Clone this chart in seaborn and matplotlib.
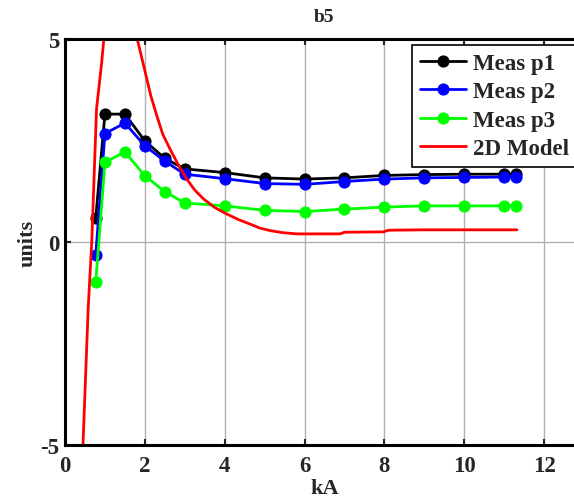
import matplotlib
matplotlib.use("Agg")
import matplotlib.pyplot as plt
import seaborn as sns
import pandas as pd

sns.set_style("white")
plt.rcParams['font.family'] = ['Liberation Serif', 'DejaVu Serif']
plt.rcParams['font.weight'] = 'bold'
plt.rcParams['axes.unicode_minus'] = False

meas_x = [0.77, 1.0, 1.5, 2.0, 2.5, 3.0, 4.0, 5.0, 6.0, 7.0, 8.0, 9.0, 10.0, 11.0, 11.3]
p1 = [0.59, 3.15, 3.15, 2.49, 2.06, 1.80, 1.71, 1.58, 1.55, 1.58, 1.64, 1.66, 1.67, 1.67, 1.67]
p2 = [-0.32, 2.67, 2.93, 2.37, 1.99, 1.67, 1.56, 1.44, 1.42, 1.49, 1.55, 1.58, 1.59, 1.60, 1.60]
p3 = [-0.99, 1.96, 2.22, 1.63, 1.24, 0.96, 0.89, 0.78, 0.75, 0.81, 0.86, 0.89, 0.89, 0.89, 0.89]

model_x = [0.40, 0.45, 0.52, 0.58, 0.67, 0.79, 0.92, 1.0, 1.2, 1.45, 1.7, 1.81, 2.01, 2.15,
           2.30, 2.45, 2.63, 2.85, 3.05, 3.25, 3.47, 3.75, 4.05, 4.35, 4.64, 4.89, 5.14,
           5.45, 5.81, 6.5, 6.89, 7.0, 7.98, 8.1, 8.98, 9.1, 11.32]
model_y = [-7.0, -5.0, -3.2, -1.65, 0.0, 3.28, 4.43, 5.3, 7.0, 7.5, 5.8, 5.0, 4.18, 3.6,
           3.11, 2.65, 2.29, 1.88, 1.55, 1.28, 1.06, 0.85, 0.69, 0.55, 0.44, 0.34, 0.28,
           0.23, 0.20, 0.20, 0.20, 0.24, 0.25, 0.29, 0.30, 0.30, 0.30]

fig = plt.figure(figsize=(5.74, 5.02), dpi=100)
ax = fig.add_axes([65/574, 1-446/502, 519/574, 406/502])

series = [("Meas p1", p1, "#000000"), ("Meas p2", p2, "#0000ff"), ("Meas p3", p3, "#00ff00")]
for name, vals, col in series:
    df = pd.DataFrame({"x": meas_x, "y": vals})
    sns.lineplot(data=df, x="x", y="y", ax=ax, color=col, marker="o", markersize=8,
                 markeredgecolor=col, linewidth=2, sort=False, estimator=None, label=name)
dfm = pd.DataFrame({"x": model_x, "y": model_y})
sns.lineplot(data=dfm, x="x", y="y", ax=ax, color="#ff0000", linewidth=2, sort=False,
             estimator=None, label="2D Model")

ax.set_xlim(0, 13)
ax.set_ylim(-5, 5)
ax.set_xticks([0, 2, 4, 6, 8, 10, 12])
ax.set_yticks([-5, 0, 5])
ax.grid(True, color="#b0b0b0", linewidth=1)
ax.set_axisbelow(True)
for s in ax.spines.values():
    s.set_linewidth(2.2)
    s.set_color("black")
ax.tick_params(direction="in", length=4, width=1.5, labelsize=16.5,
               top=True, right=True, bottom=True, left=True)
ax.tick_params(axis="x", pad=7)
ax.tick_params(axis="y", pad=4)
for lab in ax.get_xticklabels() + ax.get_yticklabels():
    lab.set_fontweight("bold")
ax.set_xlabel("kA", fontsize=16, fontweight="bold", labelpad=2)
ax.set_ylabel("units", fontsize=16, fontweight="bold", labelpad=2)
ax.set_title("b5", fontsize=14, fontweight="bold", pad=13)

leg = ax.legend(loc="upper left", bbox_to_anchor=(412/574, 1-46/502),
                bbox_transform=fig.transFigure, frameon=True, fancybox=False,
                edgecolor="black", framealpha=1, prop={"size": 16.5, "weight": "bold"},
                handlelength=2.0, borderpad=0.35, labelspacing=0.32, handletextpad=0.3,
                borderaxespad=0)
leg.get_frame().set_linewidth(1.2)

fig.savefig("out.png", dpi=100)
